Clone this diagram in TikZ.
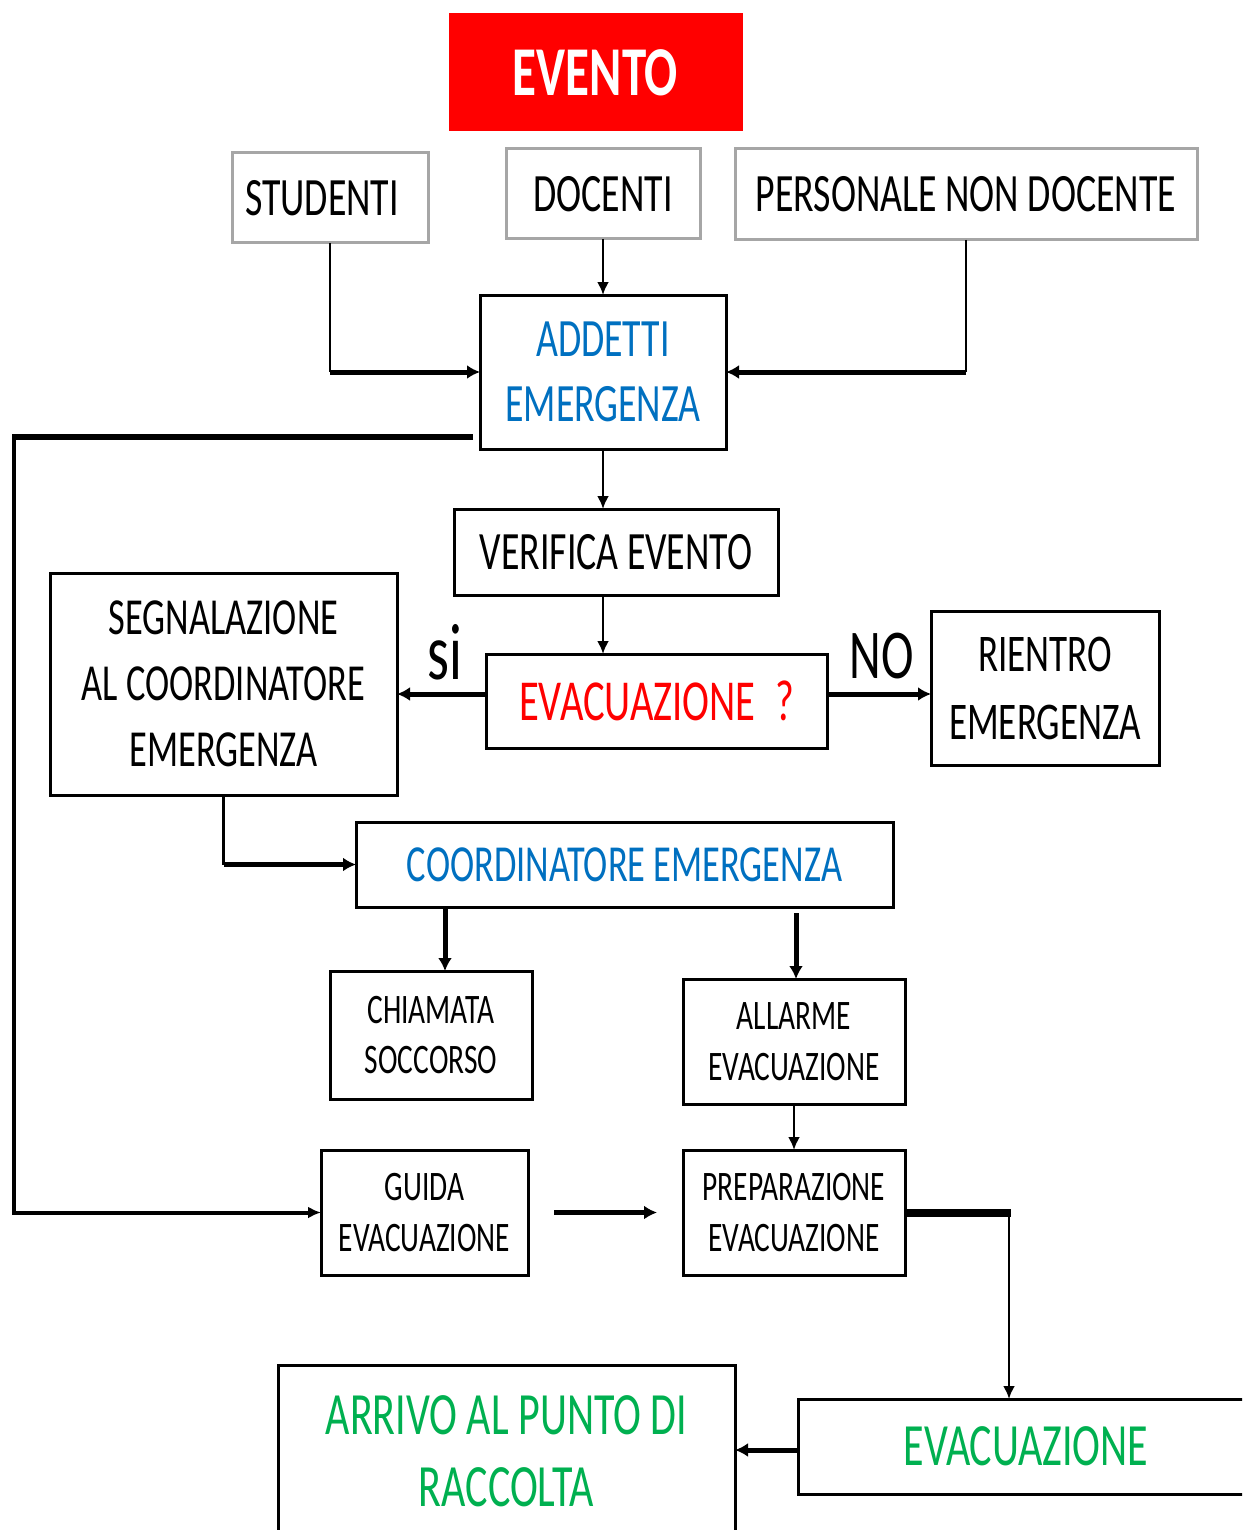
\documentclass[tikz,border=0pt]{standalone}
\usepackage{fontspec}
\setmainfont{Carlito}[FakeStretch=0.7]
\usetikzlibrary{arrows.meta}
\definecolor{ablue}{HTML}{0070C0}
\definecolor{agreen}{HTML}{00B050}
\definecolor{agray}{HTML}{A6A6A6}
\begin{document}
\begin{tikzpicture}[x=1pt,y=-1pt,
  box/.style={draw=black, line width=3pt, fill=white, inner sep=0pt, outer sep=0pt, align=center},
  gbox/.style={box, draw=agray},
  arr/.style={-{Latex[length=13pt,width=12pt]}, line width=2.5pt},
  tarr/.style={-{Latex[length=13pt,width=14pt]}, line width=5pt},
  fA/.style={font=\fontsize{54}{65}\selectfont},
  fB/.style={font=\fontsize{52}{66}\selectfont},
  fC/.style={font=\fontsize{42}{51}\selectfont},
  line join=miter]
\useasboundingbox (0,0) rectangle (1242,1530);
\clip (0,0) rectangle (1242,1530);
\fill[white] (0,0) rectangle (1242,1530);

% nodes
\node[box, fill=red, draw=red, minimum width=291pt, minimum height=115pt,
      font=\fontsize{70}{70}\selectfont\bfseries, text=white] (evento) at (595.5,72.5) {EVENTO};
\node[gbox, fA, minimum width=196pt, minimum height=90pt] (studenti) at (330,198) {STUDENTI\hspace*{16pt}};
\node[gbox, fA, minimum width=194pt, minimum height=90pt] (docenti) at (603,194) {DOCENTI};
\node[gbox, fA, minimum width=462pt, minimum height=91pt] (personale) at (966,194.5) {PERSONALE NON DOCENTE};
\node[box, fA, text=ablue, minimum width=246pt, minimum height=154pt] (addetti) at (603,372) {ADDETTI\\EMERGENZA};
\node[box, fA, minimum width=324pt, minimum height=86pt] (verifica) at (616,552) {VERIFICA EVENTO};
\node[box, font=\fontsize{58}{58}\selectfont, text=red, minimum width=341pt, minimum height=94pt] (evacq) at (656.5,701) {EVACUAZIONE\,\,?};
\node[box, fB, minimum width=347pt, minimum height=222pt] (segn) at (223.5,684) {SEGNALAZIONE\\AL COORDINATORE\\EMERGENZA};
\node[box, font=\fontsize{53}{68}\selectfont, minimum width=228pt, minimum height=154pt] (rientro) at (1045,688) {RIENTRO\\EMERGENZA};
\node[box, fB, text=ablue, minimum width=537pt, minimum height=85pt] (coord) at (624.5,864.5) {COORDINATORE EMERGENZA};
\node[box, font=\fontsize{42}{50}\selectfont, minimum width=202pt, minimum height=128pt] (chiamata) at (431,1035) {CHIAMATA\\SOCCORSO};
\node[box, fC, minimum width=222pt, minimum height=125pt] (allarme) at (794,1041.5) {ALLARME\\EVACUAZIONE};
\node[box, fC, minimum width=207pt, minimum height=125pt] (guida) at (424.5,1212.5) {GUIDA\\EVACUAZIONE};
\node[box, fC, minimum width=222pt, minimum height=125pt] (prep) at (794,1212.5) {PREPARAZIONE\\EVACUAZIONE};
\node[box, font=\fontsize{60}{60}\selectfont, text=agreen, minimum width=456pt, minimum height=95pt] (evac) at (1026,1446.5) {EVACUAZIONE};
\node[box, font=\fontsize{60}{72}\selectfont, text=agreen, minimum width=457pt, minimum height=172pt] (arrivo) at (506.5,1451) {ARRIVO AL PUNTO DI\\RACCOLTA};

% labels
\node[font=\fontsize{80}{80}\selectfont, inner sep=0pt] (si) at (445,652) {si};
\node[font=\fontsize{70}{70}\selectfont, inner sep=0pt] (no) at (882,656) {NO};

% connectors
\draw[line width=2.5pt] (studenti.south) -- (studenti.south |- addetti.west);
\draw[tarr] (studenti.south |- addetti.west) -- (addetti.west);
\draw[arr] (docenti.south) -- (addetti.north);
\draw[line width=2.5pt] (personale.south) -- (personale.south |- addetti.east);
\draw[tarr] (personale.south |- addetti.east) -- (addetti.east);

\coordinate (loopA) at (473,437);
\coordinate (loopB) at (14,437);
\coordinate (loopC) at (14,1212.5);
\draw[line width=6pt] (loopA) -- ([xshift=-2pt]loopB);
\draw[line width=4pt] (loopB) -- (loopC);
\draw[-{Latex[length=13pt,width=12pt]}, line width=4pt] ([xshift=-2pt]loopC) -- (guida.west);

\draw[arr] (addetti.south) -- (addetti.south |- verifica.north);
\draw[arr] (addetti.south |- verifica.south) -- (addetti.south |- evacq.north);
\draw[tarr] ([yshift=7pt]evacq.west) -- ([yshift=7pt]evacq.west -| segn.east);
\draw[tarr] ([yshift=7pt]evacq.east) -- ([yshift=7pt]evacq.east -| rientro.west);

\draw[line width=3pt] (segn.south) -- (segn.south |- coord.west);
\draw[tarr] (segn.south |- coord.west) -- (coord.west);

\coordinate (cA) at (445,907);
\draw[tarr] (cA) -- (cA |- chiamata.north);
\coordinate (cB) at (796,913);
\draw[tarr] (cB) -- (cB |- allarme.north);
\draw[arr] (allarme.south) -- (prep.north);

\coordinate (ga) at (554,1212.5);
\coordinate (gb) at (657,1212.5);
\draw[tarr] (ga) -- (gb);

\coordinate (pc) at (1009,1212.5);
\draw[line width=8pt] (prep.east) -- ([xshift=2pt]pc);
\draw[arr] (pc) -- (pc |- evac.north);
\draw[tarr] (evac.west |- 0,1450) -- (arrivo.east |- 0,1450);
\end{tikzpicture}
\end{document}
